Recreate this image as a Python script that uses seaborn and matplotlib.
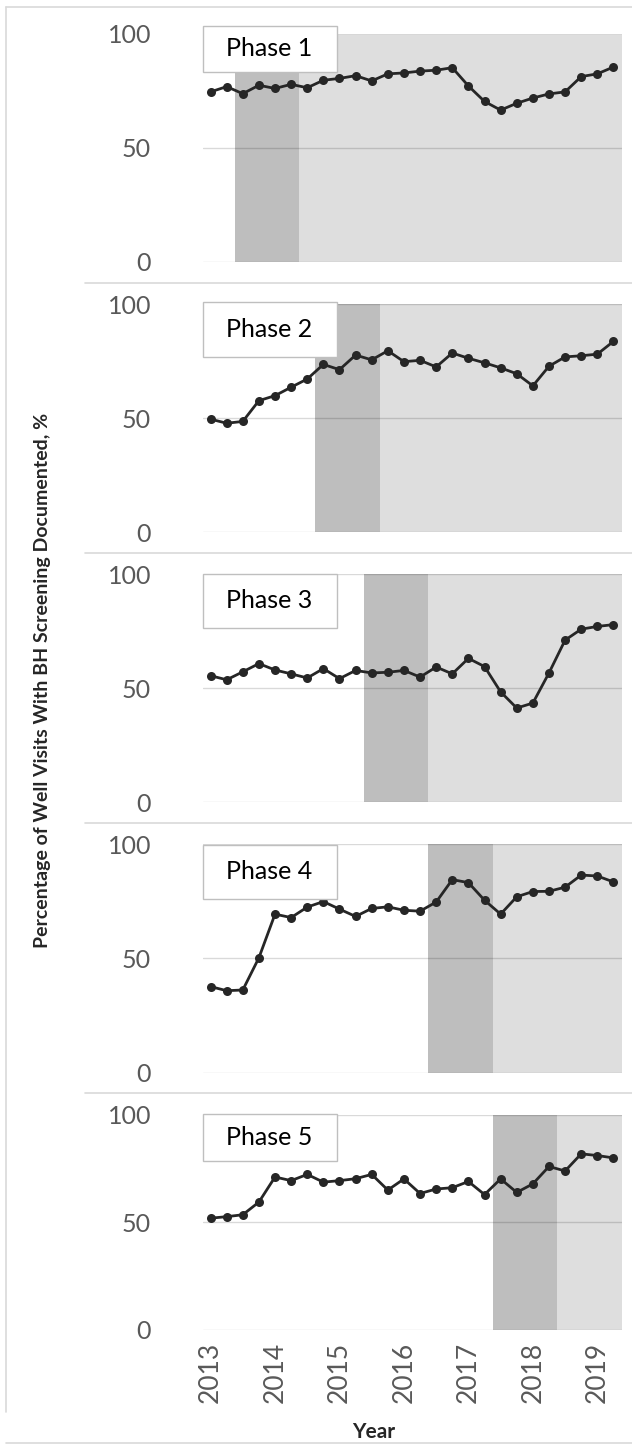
import matplotlib
matplotlib.use('Agg')
import matplotlib.pyplot as plt
import numpy as np
import pandas as pd
import seaborn as sns
from matplotlib.lines import Line2D
from matplotlib.patches import Rectangle

# Quarterly data, 2013 Q1 - 2019 Q2
quarters = ['2013Q1', '2013Q2', '2013Q3', '2013Q4', '2014Q1', '2014Q2', '2014Q3', '2014Q4',
            '2015Q1', '2015Q2', '2015Q3', '2015Q4', '2016Q1', '2016Q2', '2016Q3', '2016Q4',
            '2017Q1', '2017Q2', '2017Q3', '2017Q4', '2018Q1', '2018Q2', '2018Q3', '2018Q4',
            '2019Q1', '2019Q2']
year_labels = ['2013', '2014', '2015', '2016', '2017', '2018', '2019']

phase_names = ['Phase 1', 'Phase 2', 'Phase 3', 'Phase 4', 'Phase 5']

phase1 = [74.4, 76.7, 73.6, 77.3, 75.9, 77.7, 76.2, 79.5, 80.3, 81.5, 79.2, 82.3, 82.7,
          83.5, 83.9, 85.0, 77.0, 70.2, 66.4, 69.4, 71.7, 73.5, 74.4, 81.1, 82.3, 85.3]
phase2 = [49.5, 47.7, 48.5, 57.6, 59.8, 63.5, 67.1, 73.5, 71.2, 77.6, 75.5, 79.5, 74.7,
          75.3, 72.4, 78.5, 76.2, 74.2, 72.0, 69.4, 64.1, 72.7, 76.8, 77.3, 78.0, 83.6]
phase3 = [55.4, 53.6, 57.1, 60.7, 57.9, 56.2, 54.4, 58.5, 54.1, 57.7, 56.6, 56.9, 57.7,
          54.8, 59.2, 56.2, 63.0, 59.4, 48.3, 41.2, 43.4, 56.6, 71.0, 75.8, 77.0, 77.8]
phase4 = [37.6, 35.8, 36.1, 50.2, 69.3, 67.8, 72.4, 74.8, 71.5, 68.3, 71.8, 72.5, 71.0,
          70.6, 74.6, 84.4, 83.1, 75.4, 69.3, 76.9, 79.2, 79.3, 81.1, 86.4, 86.0, 83.4]
phase5 = [51.9, 52.6, 53.5, 59.4, 71.1, 69.4, 72.3, 68.7, 69.4, 70.3, 72.3, 65.0, 70.2,
          63.4, 65.5, 66.1, 69.0, 62.9, 70.2, 63.9, 67.9, 76.0, 73.9, 81.9, 81.1, 80.0]
series = [phase1, phase2, phase3, phase4, phase5]

# implementation window (dark) and maintenance (light), in quarter positions
impl_start = [1.5, 6.5, 9.5, 13.5, 17.5]
impl_end = [5.5, 10.5, 13.5, 17.5, 21.5]

sns.set_style('white')
plt.rcParams['font.family'] = ['Lato', 'DejaVu Sans']

W, H = 632, 1446
fig = plt.figure(figsize=(W / 100, H / 100), dpi=100)


def px_rect(left, top, right, bottom):
    return [left / W, 1 - bottom / H, (right - left) / W, (bottom - top) / H]


# panel geometry in pixels (top = 100 line, bottom = 0 line)
panel_tops = [33.5, 304, 574, 844, 1115]
panel_bottoms = [261.5, 532, 802, 1072.5, 1329.5]
box_y = [(83.2, 103.3), (76.8, 101), (76.5, 100), (75.8, 99.7), (78.7, 100.5)]

x = np.arange(len(quarters))
xmax = len(quarters) - 0.5

for i, vals in enumerate(series):
    ax = fig.add_axes(px_rect(202.5, panel_tops[i], 621.5, panel_bottoms[i]))
    df = pd.DataFrame({'q': x, 'pct': vals})

    ax.axvspan(impl_start[i], impl_end[i], color='#bebebe', lw=0, zorder=0)
    ax.axvspan(impl_end[i], xmax, color='#dedede', lw=0, zorder=0)
    for yv in [0, 50, 100]:
        ax.axhline(yv, color='black', alpha=0.15, lw=1, zorder=1)

    sns.lineplot(data=df, x='q', y='pct', ax=ax, color='#262626', lw=2,
                 marker='o', markersize=6.5, markeredgewidth=0, zorder=3)

    ax.set_xlim(-0.5, xmax)
    ax.set_ylim(0, 100)
    ax.set_yticks([0, 50, 100])
    ax.tick_params(axis='y', length=0, pad=37, labelsize=18, labelcolor='#595959')
    ax.set_xlabel('')
    ax.set_ylabel('')
    for s in ax.spines.values():
        s.set_visible(False)

    if i == len(series) - 1:
        ax.set_xticks(x[::4])
        ax.set_xticklabels(year_labels, rotation=90)
        ax.tick_params(axis='x', length=0, pad=9, labelsize=19, labelcolor='#595959')
    else:
        ax.set_xticks([])

    # phase label box
    y0, y1 = box_y[i]
    ax.add_patch(Rectangle((-0.5, y0), 8.35, y1 - y0, facecolor='white',
                           edgecolor='#bfbfbf', lw=1, zorder=4, clip_on=False))
    ax.text(3.65, (y0 + y1) / 2, phase_names[i], ha='center', va='center',
            fontsize=18, color='black', zorder=5, clip_on=False)

fig.text(43 / W, 1 - 680 / H, 'Percentage of Well Visits With BH Screening Documented, %',
         rotation=90, ha='center', va='center', fontsize=14, fontweight='bold')
fig.text(374 / W, 1 - 1432 / H, 'Year', ha='center', va='center',
         fontsize=15, fontweight='bold')

# light chart borders
border = '#d9d9d9'
fig.add_artist(Line2D([6 / W, 6 / W], [1 - 7 / H, 1 - 1412 / H], color=border, lw=1.2))
fig.add_artist(Line2D([6 / W, 1], [1 - 7 / H, 1 - 7 / H], color=border, lw=1.2))
for ys in [283, 553, 823, 1093]:
    fig.add_artist(Line2D([85 / W, 1], [1 - ys / H, 1 - ys / H], color=border, lw=1.2))
fig.add_artist(Line2D([6 / W, 1], [1 - 1443 / H, 1 - 1443 / H], color=border, lw=1.2))

fig.savefig('out.png', dpi=100)
